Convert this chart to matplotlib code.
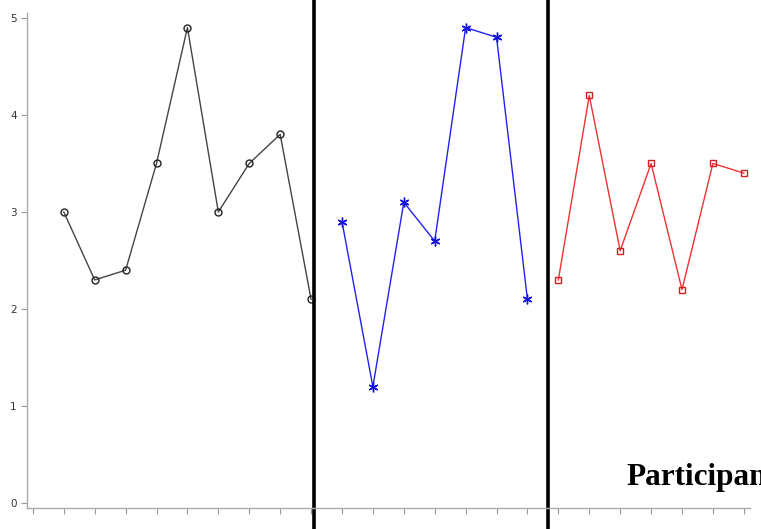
import matplotlib.pyplot as plt
import matplotlib.transforms as mtransforms

# values
black_x = [1, 2, 3, 4, 5, 6, 7, 8, 9]
black_y = [3.0, 2.3, 2.4, 3.5, 4.9, 3.0, 3.5, 3.8, 2.1]
blue_x = [10, 11, 12, 13, 14, 15, 16]
blue_y = [2.9, 1.2, 3.1, 2.7, 4.9, 4.8, 2.1]
red_x = [17, 18, 19, 20, 21, 22, 23]
red_y = [2.3, 4.2, 2.6, 3.5, 2.2, 3.5, 3.4]
x_ticks = list(range(24))
y_ticks = [0, 1, 2, 3, 4, 5]
dividers = [9.1, 16.65]


def main():
    fig = plt.figure(figsize=(7.61, 5.29), dpi=100)
    ax = fig.add_axes([27 / 761, 21 / 529, 723 / 761, 495 / 529])

    ax.plot(black_x, black_y, color='#444444', lw=1, marker='o', ms=5,
            mfc='none', mec='#222222', mew=1)
    ax.plot(blue_x, blue_y, color='#2222ee', lw=1, marker=(6, 2, 0), ms=7,
            mec='#1111dd', mew=1)
    ax.plot(red_x, red_y, color='#ee3333', lw=1, marker='s', ms=5,
            mfc='none', mec='#cc2222', mew=1)

    ax.set_xlim(-0.19, 23.2)
    ax.set_ylim(-0.05, 5.05)
    ax.set_xticks(x_ticks)
    ax.set_xticklabels([])
    ax.set_yticks(y_ticks)
    ax.tick_params(colors='#999999', labelcolor='#333333', labelsize=7.5,
                   length=4, width=0.8, direction='out')
    for side in ['top', 'right']:
        ax.spines[side].set_visible(False)
    for side in ['left', 'bottom']:
        ax.spines[side].set_color('#aaaaaa')
        ax.spines[side].set_linewidth(1)

    trans = mtransforms.blended_transform_factory(ax.transData, fig.transFigure)
    for d in dividers:
        ax.plot([d, d], [0, 1], color='black', lw=2.6, transform=trans,
                clip_on=False)

    fig.text(626 / 761, 44 / 529, 'Participant', fontsize=22.5,
             fontweight='bold', family='Liberation Serif', color='black')

    fig.savefig('out.png', dpi=100)


if __name__ == '__main__':
    main()
